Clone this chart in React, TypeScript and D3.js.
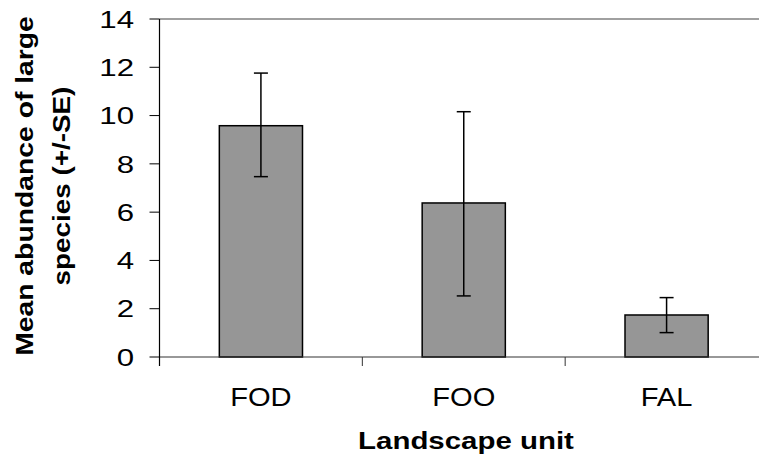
import * as d3 from "d3";

const categories = ["FOD", "FOO", "FAL"];
const means = [9.58, 6.38, 1.74];
const seLow = [7.47, 2.53, 1.01];
const seHigh = [11.76, 10.16, 2.46];
const yTicks = [0, 2, 4, 6, 8, 10, 12, 14];

const W = 759;
const H = 461;
const font = "'Liberation Sans', Arial, sans-serif";

export default function App() {
  // plot area: left axis at x≈159, 0 at y≈357, 14 at y≈19
  const y = d3.scaleLinear().domain([0, 14]).range([357, 19]);
  const x = d3.scaleBand().domain(categories).range([159.5, 768]).padding(0);
  const barW = x.bandwidth() * 0.41;
  const capW = 14;
  const x0 = x.range()[0];

  return (
    <svg
      width={W}
      height={H}
      style={{ position: "absolute", left: 0, top: 0, background: "#fff" }}
      fontFamily={font}
    >
      {/* top border of plot area */}
      <line x1={x0} x2={W} y1={y(14)} y2={y(14)} stroke="#808080" strokeWidth={1.5} />

      {/* bars + error bars */}
      {categories.map((c, i) => {
        const cx = x(c)! + x.bandwidth() / 2;
        return (
          <g key={c}>
            <rect
              x={cx - barW / 2}
              y={y(means[i])}
              width={barW}
              height={y(0) - y(means[i])}
              fill="#969696"
              stroke="#000"
              strokeWidth={1.5}
            />
            <line x1={cx} x2={cx} y1={y(seLow[i])} y2={y(seHigh[i])} stroke="#000" strokeWidth={1.5} />
            <line x1={cx - capW / 2} x2={cx + capW / 2} y1={y(seHigh[i])} y2={y(seHigh[i])} stroke="#000" strokeWidth={1.5} />
            <line x1={cx - capW / 2} x2={cx + capW / 2} y1={y(seLow[i])} y2={y(seLow[i])} stroke="#000" strokeWidth={1.5} />
          </g>
        );
      })}

      {/* x axis */}
      <line x1={x0} x2={W} y1={y(0)} y2={y(0)} stroke="#333" strokeWidth={1.2} />
      {categories.map((c) => (
        <line key={c} x1={x(c)!} x2={x(c)!} y1={y(0)} y2={y(0) + 9} stroke="#333" strokeWidth={1} />
      ))}
      {categories.map((c) => (
        <text
          key={c}
          transform={`translate(${x(c)! + x.bandwidth() / 2},406) scale(1.12,1)`}
          textAnchor="middle"
          fontSize={26}
          fill="#000"
        >
          {c}
        </text>
      ))}

      {/* y axis */}
      <line x1={x0} x2={x0} y1={y(14)} y2={y(0) + 9} stroke="#000" strokeWidth={1.2} />
      {yTicks.map((t) => (
        <g key={t}>
          <line x1={x0 - 10} x2={x0} y1={y(t)} y2={y(t)} stroke="#000" strokeWidth={1} />
          <text
            transform={`translate(134,${y(t)}) scale(1.3,1)`}
            dy="0.36em"
            textAnchor="end"
            fontSize={24}
            fill="#000"
          >
            {t}
          </text>
        </g>
      ))}

      {/* axis titles */}
      <text
        transform="translate(466,449) scale(1.28,1)"
        textAnchor="middle"
        fontSize={23}
        fontWeight="bold"
        fill="#000"
      >
        Landscape unit
      </text>
      <text
        transform="translate(33,186) rotate(-90) scale(1.18,1)"
        textAnchor="middle"
        fontSize={24}
        fontWeight="bold"
        fill="#000"
      >
        Mean abundance of large
      </text>
      <text
        transform="translate(70,186) rotate(-90) scale(1.16,1)"
        textAnchor="middle"
        fontSize={24}
        fontWeight="bold"
        fill="#000"
      >
        species (+/-SE)
      </text>
    </svg>
  );
}
